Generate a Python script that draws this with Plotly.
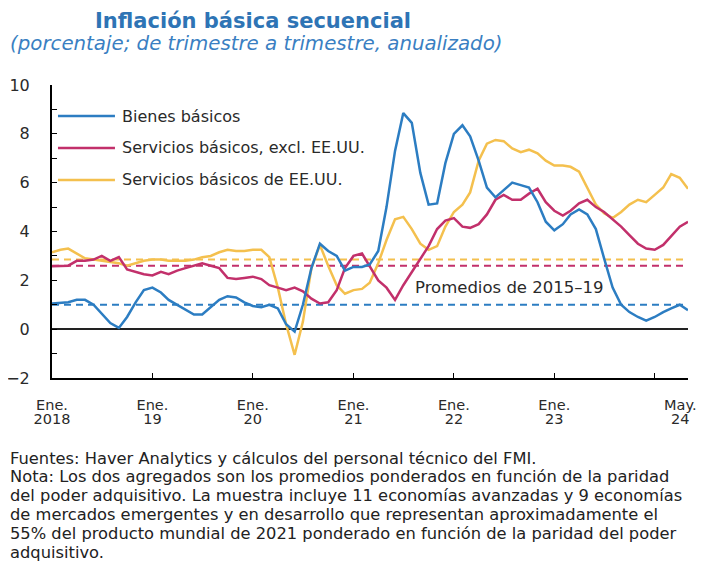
import plotly.graph_objects as go
import pandas as pd

# monthly, Jan 2018 - May 2024
months = pd.date_range("2018-01-01", periods=77, freq="MS")

bienes = [1.05, 1.07, 1.1, 1.2, 1.2, 1.0, 0.65, 0.25, 0.05, 0.5, 1.1, 1.6,
          1.7, 1.5, 1.2, 1.0, 0.8, 0.6, 0.6, 0.9, 1.2, 1.35, 1.3, 1.1,
          0.95, 0.9, 1.0, 0.85, 0.2, -0.1, 1.0, 2.5, 3.5, 3.2, 3.0, 2.4,
          2.55, 2.55, 2.65, 3.2, 5.0, 7.3, 8.85, 8.45, 6.4, 5.1, 5.15, 6.8,
          8.0, 8.35, 7.9, 6.9, 5.8, 5.4, 5.7, 6.0, 5.9, 5.8, 5.2, 4.4,
          4.05, 4.3, 4.7, 4.9, 4.7, 4.1, 2.9, 1.7, 1.0, 0.7, 0.5, 0.35,
          0.5, 0.7, 0.85, 1.0, 0.78]

servicios_excl = [2.58, 2.6, 2.6, 2.8, 2.8, 2.85, 3.0, 2.8, 2.95, 2.45, 2.35, 2.25,
                  2.2, 2.35, 2.25, 2.4, 2.5, 2.6, 2.7, 2.6, 2.5, 2.1, 2.05, 2.1,
                  2.15, 2.05, 1.8, 1.7, 1.6, 1.7, 1.55, 1.25, 1.05, 1.1, 1.6, 2.5,
                  3.0, 3.1, 2.6, 2.0, 1.7, 1.2, 1.8, 2.35, 2.9, 3.4, 4.1, 4.45,
                  4.55, 4.2, 4.15, 4.3, 4.7, 5.3, 5.5, 5.3, 5.3, 5.55, 5.75, 5.2,
                  4.85, 4.65, 4.85, 5.15, 5.3, 5.0, 4.8, 4.5, 4.2, 3.85, 3.5, 3.3,
                  3.25, 3.45, 3.8, 4.2, 4.4]

servicios_eeuu = [3.15, 3.25, 3.3, 3.1, 2.9, 2.85, 2.8, 2.75, 2.7, 2.6, 2.7, 2.8,
                  2.85, 2.85, 2.8, 2.8, 2.8, 2.85, 2.95, 3.0, 3.15, 3.25, 3.2, 3.2,
                  3.25, 3.25, 2.95, 1.7, 0.2, -1.05, 0.3, 2.5, 3.45, 2.6, 1.8, 1.45,
                  1.6, 1.65, 1.9, 2.7, 3.65, 4.5, 4.6, 4.1, 3.5, 3.25, 3.4, 4.2,
                  4.8, 5.1, 5.6, 6.9, 7.6, 7.75, 7.7, 7.4, 7.25, 7.35, 7.2, 6.9,
                  6.7, 6.7, 6.65, 6.45, 5.8, 5.1, 4.75, 4.55, 4.8, 5.1, 5.3, 5.2,
                  5.5, 5.8, 6.35, 6.2, 5.75]

# promedios 2015-19
prom_bienes = 1.0
prom_excl = 2.6
prom_eeuu = 2.85

series_names = ["Bienes básicos", "Servicios básicos, excl. EE.UU.", "Servicios básicos de EE.UU."]
colors = ["#2C7DC2", "#C2306B", "#F4C04E"]

xtick_marks = ["2018-01-01", "2019-01-01", "2020-01-01", "2021-01-01",
               "2022-01-01", "2023-01-01", "2024-01-01"]
xlabel_pos = ["2018-01-01", "2019-01-01", "2020-01-01", "2021-01-01",
              "2022-01-01", "2023-01-01", "2024-04-03"]
xlabel_top = ["Ene.", "Ene.", "Ene.", "Ene.", "Ene.", "Ene.", "May."]
xlabel_bottom = ["2018", "19", "20", "21", "22", "23", "24"]
ytick_vals = list(range(-2, 11))
ytick_text = [("−2" if v == -2 else str(v)) if v % 2 == 0 else "" for v in ytick_vals]

font_main = "DejaVu Sans, sans-serif"
txt = "#2a2a2a"

fig = go.Figure()

# dashed averages
for val, col in [(prom_eeuu, colors[2]), (prom_excl, colors[1]), (prom_bienes, colors[0])]:
    fig.add_trace(go.Scatter(x=[months[0], months[-1]], y=[val, val], mode="lines",
                             line=dict(color=col, width=2, dash="7px,5px"),
                             showlegend=False, hoverinfo="skip"))

# series: yellow behind, blue on top
for ys, i in [(servicios_eeuu, 2), (servicios_excl, 1), (bienes, 0)]:
    fig.add_trace(go.Scatter(x=months, y=ys, mode="lines", name=series_names[i],
                             line=dict(color=colors[i], width=2.5), showlegend=False))

# empty traces so the label axes are drawn
fig.add_trace(go.Scatter(x=[months[0]], y=[None], xaxis="x2", showlegend=False, hoverinfo="skip"))
fig.add_trace(go.Scatter(x=[months[0]], y=[None], xaxis="x3", showlegend=False, hoverinfo="skip"))

# legend drawn by hand (long key lines, like the reference)
for i, ypos in enumerate([0.894, 0.785, 0.676]):
    fig.add_shape(type="line", xref="paper", yref="paper", x0=0.0094, x1=0.099, y0=ypos, y1=ypos,
                  line=dict(color=colors[i], width=2.5))
    fig.add_annotation(xref="paper", yref="paper", x=0.107, y=ypos, xanchor="left", yanchor="middle",
                       text=series_names[i], showarrow=False, font=dict(size=16, color=txt))

fig.add_annotation(x="2022-07-21", y=1.72, text="Promedios de 2015–19", showarrow=False,
                   font=dict(size=16.5, color=txt))

fig.add_annotation(xref="paper", yref="paper", x=0.316, y=1.2184, xanchor="center", yanchor="middle",
                   text="<b>Inflación básica secuencial</b>",
                   showarrow=False, font=dict(size=21, color="#2E74B5"))
fig.add_annotation(xref="paper", yref="paper", x=-0.069, y=1.143, xanchor="left", yanchor="middle",
                   text="<i>(porcentaje; de trimestre a trimestre, anualizado)</i>",
                   showarrow=False, font=dict(size=19.8, color="#3A7FC2"))

nota_lines = ["Fuentes: Haver Analytics y cálculos del personal técnico del FMI.",
              "Nota: Los dos agregados son los promedios ponderados en función de la paridad",
              "del poder adquisitivo. La muestra incluye 11 economías avanzadas y 9 economías",
              "de mercados emergentes y en desarrollo que representan aproximadamente el",
              "55% del producto mundial de 2021 ponderado en función de la paridad del poder",
              "adquisitivo."]
for k, line in enumerate(nota_lines):
    py = 458 + 18.8 * k
    fig.add_annotation(xref="paper", yref="paper", x=-0.069, y=(378 - py) / 293,
                       xanchor="left", yanchor="middle", text=line, showarrow=False,
                       font=dict(size=16.3, color="#222222"))

# page body has an 8px margin, so the figure is 8px smaller and shifted
fig.update_layout(
    width=696, height=553,
    margin=dict(l=44, r=16, t=77, b=183, autoexpand=False),
    plot_bgcolor="white", paper_bgcolor="white",
    font=dict(family=font_main, size=16, color=txt),
    showlegend=False,
    xaxis=dict(type="date", range=["2018-01-01", "2024-05-01"], tickvals=xtick_marks,
               showticklabels=False, ticks="inside", ticklen=5, tickcolor="black", automargin=False,
               showline=True, linecolor="black", linewidth=2, showgrid=False, zeroline=False),
    xaxis2=dict(type="date", overlaying="x", matches="x", anchor="y", side="bottom",
                tickvals=xlabel_pos, ticktext=xlabel_top, ticks="", showline=False, automargin=False,
                showgrid=False, zeroline=False, ticklabelstandoff=16,
                tickfont=dict(size=14.5, color=txt)),
    xaxis3=dict(type="date", overlaying="x", matches="x", anchor="y", side="bottom",
                tickvals=xlabel_pos, ticktext=xlabel_bottom, ticks="", showline=False, automargin=False,
                showgrid=False, zeroline=False, ticklabelstandoff=30,
                tickfont=dict(size=14.5, color=txt)),
    yaxis=dict(range=[-2, 10], tickvals=ytick_vals, ticktext=ytick_text, automargin=False,
               ticks="inside", ticklen=5, tickcolor="black", showline=True,
               linecolor="black", linewidth=2, showgrid=False,
               zeroline=True, zerolinecolor="#222222", zerolinewidth=2,
               ticklabelstandoff=17, tickfont=dict(size=16, color=txt)),
)

fig.write_html("out.html")
